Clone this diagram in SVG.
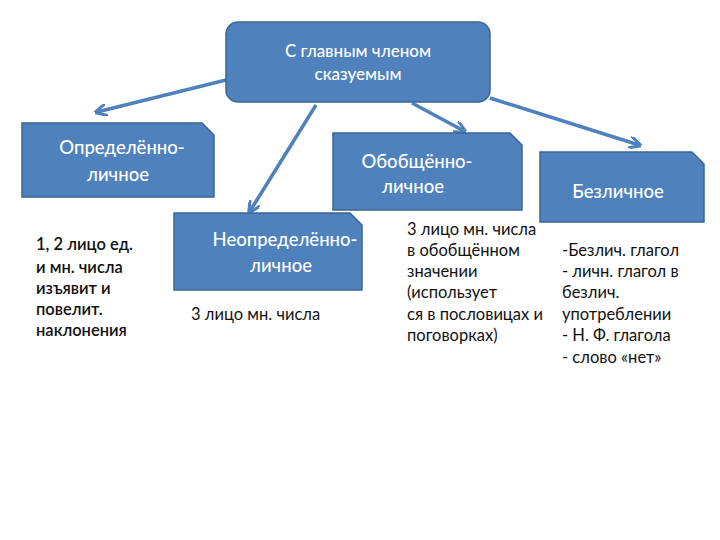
<svg xmlns="http://www.w3.org/2000/svg" width="720" height="540" viewBox="0 0 720 540">
<style>
.box{fill:#4F81BD;stroke:#3A6594;stroke-width:1.5}
.bt{font-family:Lato,"Open Sans",sans-serif;font-size:18.5px;fill:#fff;text-anchor:middle;font-weight:500}
.t{font-family:Lato,"Open Sans",sans-serif;font-size:16.5px;fill:#111}
.c line{stroke:#4F81BD;stroke-width:3.5}
</style>
<defs><marker id="a" viewBox="0 0 10 10" refX="8" refY="5" markerWidth="3.5" markerHeight="3.5" orient="auto"><path d="M0,0L10,5L0,10" fill="none" stroke="#4F81BD" stroke-width="2.5"/></marker></defs>
<rect width="720" height="540" fill="#fff"/>
<g class="c">
<line x1="226" y1="80" x2="97" y2="112" marker-end="url(#a)"/>
<line x1="316" y1="105" x2="250" y2="211" marker-end="url(#a)"/>
<line x1="412" y1="103" x2="464" y2="131" marker-end="url(#a)"/>
<line x1="490" y1="98" x2="639" y2="145" marker-end="url(#a)"/>
</g>
<g id="top"><rect class="box" x="226" y="22" width="264" height="80" rx="12"/><text class="bt" x="358" y="57" style="font-size:17px">С главным членом</text><text class="bt" x="358" y="80" style="font-size:17px">сказуемым</text></g>
<g id="opr"><path class="box" d="M22,123H202L214,135V197H22Z"/><text class="bt" x="122" y="154">Определённо-</text><text class="bt" x="118" y="181">личное</text></g>
<g id="neopr"><path class="box" d="M174,213H350L362,225V290H174Z"/><text class="bt" x="285" y="246">Неопределённо-</text><text class="bt" x="281" y="272">личное</text></g>
<g id="obob"><path class="box" d="M333,133H510L522,145V210H333Z"/><text class="bt" x="417" y="168">Обобщённо-</text><text class="bt" x="413" y="193">личное</text></g>
<g id="bezl"><path class="box" d="M540,152H692L704,164V222H540Z"/><text class="bt" x="618" y="198">Безличное</text></g>
<g class="t" style="font-weight:600">
<text x="36" y="250">1, 2 лицо ед.</text><text x="36" y="273">и мн. числа</text><text x="36" y="294">изъявит и</text><text x="36" y="315">повелит.</text><text x="36" y="336">наклонения</text>
</g>
<text class="t" x="191" y="320">3 лицо мн. числа</text>
<g class="t">
<text x="407" y="235">3 лицо мн. числа</text><text x="407" y="256">в обобщённом</text><text x="407" y="277">значении</text><text x="407" y="298">(использует</text><text x="407" y="320">ся в пословицах и</text><text x="407" y="341">поговорках)</text>
</g>
<g class="t">
<text x="562" y="256">-Безлич. глагол</text><text x="562" y="277">- личн. глагол в</text><text x="562" y="298">безлич.</text><text x="562" y="320">употреблении</text><text x="562" y="341">- Н. Ф. глагола</text><text x="562" y="363">- слово «нет»</text>
</g>
</svg>
